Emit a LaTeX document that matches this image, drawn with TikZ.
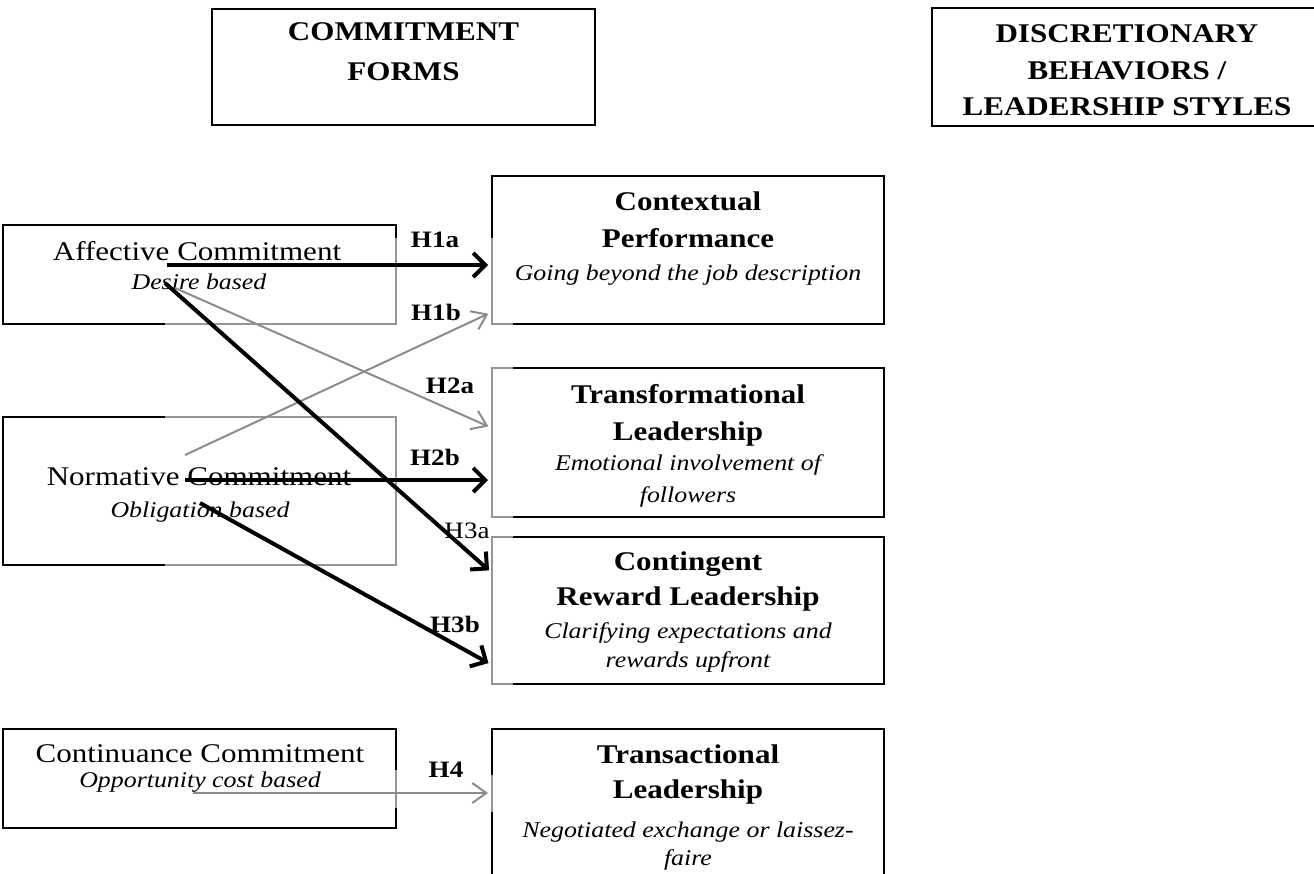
\documentclass[tikz,border=0pt]{standalone}
\usepackage{fontspec}
\setmainfont{Liberation Serif}[FakeStretch=1.15]
\usetikzlibrary{arrows.meta}
\definecolor{arrgray}{RGB}{140,140,140}
\definecolor{edgegray}{RGB}{150,150,150}
\tikzset{
 box/.style={draw=black, line width=2.2pt, inner sep=0pt, outer sep=0pt},
 hd/.style={inner sep=0pt, anchor=base, font=\fontsize{27}{30}\selectfont\bfseries},
 rg/.style={inner sep=0pt, anchor=base, font=\fontsize{27}{30}\selectfont},
 it/.style={inner sep=0pt, anchor=base, font=\fontsize{22.5}{26}\selectfont\itshape},
 lb/.style={inner sep=0pt, anchor=base, font=\fontsize{23.5}{26}\selectfont\bfseries},
 lr/.style={inner sep=0pt, anchor=base, font=\fontsize{23.5}{26}\selectfont},
 blk/.style={line width=4pt, -{Straight Barb[length=12pt,width=24pt]}},
 gry/.style={draw=arrgray, line width=2pt, -{Straight Barb[length=14pt,width=20pt]}},
 ghost/.style={draw=edgegray, line width=2.2pt},
}
\begin{document}
\begin{tikzpicture}[x=1pt,y=-1pt]
\useasboundingbox (0,0) rectangle (1314,873);
\clip (0,0) rectangle (1314,873);
\fill[white] (0,0) rectangle (1314,873);
% header boxes
\node[box, minimum width=383pt, minimum height=116pt] (cf) at (403.5,67) {};
\node[box, minimum width=390pt, minimum height=118pt] (db) at (1127,67) {};
% left boxes
\node[box, minimum width=393pt, minimum height=99pt] (aff) at (199.5,274.5) {};
\node[box, minimum width=393pt, minimum height=148pt] (nor) at (199.5,491) {};
\node[box, minimum width=393pt, minimum height=99pt] (con) at (199.5,778.5) {};
% right boxes
\node[box, minimum width=392pt, minimum height=148pt] (ctx) at (688,250) {};
\node[box, minimum width=392pt, minimum height=149pt] (tfl) at (688,442.5) {};
\node[box, minimum width=392pt, minimum height=147pt] (crl) at (688,610.5) {};
\node[box, minimum width=392pt, minimum height=160pt] (tsl) at (688,809) {};
% grey edge artefacts
\draw[ghost] (165,417) -- (396,417) -- (396,565) -- (165,565);
\draw[ghost] (396,238) -- (396,324) -- (165,324);
\draw[ghost] (396,770) -- (396,808);
\draw[ghost] (513,324) -- (492,324) -- (492,238);
\draw[ghost] (513,368) -- (492,368) -- (492,517) -- (513,517);
\draw[ghost] (513,537) -- (492,537) -- (492,684) -- (513,684);
\draw[ghost] (492,775) -- (492,812);
% header texts
\node[hd] (cf1) at (403.5,40) {COMMITMENT};
\node[hd] (cf2) at (403.5,80) {FORMS};
\node[hd] (db1) at (1127,42) {DISCRETIONARY};
\node[hd] (db2) at (1127,79) {BEHAVIORS /};
\node[hd] (db3) at (1127,115) {LEADERSHIP STYLES};
% left texts
\node[rg] (aff1) at (197,260) {Affective Commitment};
\node[it] (aff2) at (199,289) {Desire based};
\node[rg] (nor1) at (199,485) {Normative Commitment};
\node[it] (nor2) at (200,517) {Obligation based};
\node[rg] (con1) at (200,762) {Continuance Commitment};
\node[it] (con2) at (200,787) {Opportunity cost based};
% right texts
\node[hd] (ctx1) at (688,210) {Contextual};
\node[hd] (ctx2) at (688,247) {Performance};
\node[it] (ctx3) at (688,280) {Going beyond the job description};
\node[hd] (tfl1) at (688,403) {Transformational};
\node[hd] (tfl2) at (688,440) {Leadership};
\node[it] (tfl3) at (688,470) {Emotional involvement of};
\node[it] (tfl4) at (688,502) {followers};
\node[hd] (crl1) at (688,570) {Contingent};
\node[hd] (crl2) at (688,605) {Reward Leadership};
\node[it] (crl3) at (688,638) {Clarifying expectations and};
\node[it] (crl4) at (688,667) {rewards upfront};
\node[hd] (tsl1) at (688,763) {Transactional};
\node[hd] (tsl2) at (688,798) {Leadership};
\node[it] (tsl3) at (688,837) {Negotiated exchange or laissez-};
\node[it] (tsl4) at (688,865) {faire};
% arrow start points
\coordinate (s1a) at (167,265);
\coordinate (s1b) at (185,455);
\coordinate (s2a) at (175,288);
\coordinate (s2b) at (185,480);
\coordinate (s3a) at (165,283);
\coordinate (s3b) at (200,503);
\coordinate (s4) at (193,793);
% arrows
\draw[gry, shorten >=4pt] (s1b) -- (ctx.west |- 0,312);
\draw[gry, shorten >=4pt] (s2a) -- (tfl.west |- 0,428);
\draw[gry, shorten >=4pt] (s4) -- (tsl.west |- s4);
\draw[blk, shorten >=4pt] (s1a) -- (ctx.west |- s1a);
\draw[blk, shorten >=4pt] (s2b) -- (tfl.west |- s2b);
\draw[blk, shorten >=4pt] (s3a) -- (crl.west |- 0,573);
\draw[blk, shorten >=4pt] (s3b) -- (crl.west |- 0,665);
% labels
\node[lb] (h1a) at (435,247) {H1a};
\node[lb] (h1b) at (436,320) {H1b};
\node[lb] (h2a) at (450,393) {H2a};
\node[lb] (h2b) at (435,465) {H2b};
\node[lr] (h3a) at (467,538) {H3a};
\node[lb] (h3b) at (455,632) {H3b};
\node[lb] (h4) at (446,777) {H4};
\end{tikzpicture}
\end{document}
